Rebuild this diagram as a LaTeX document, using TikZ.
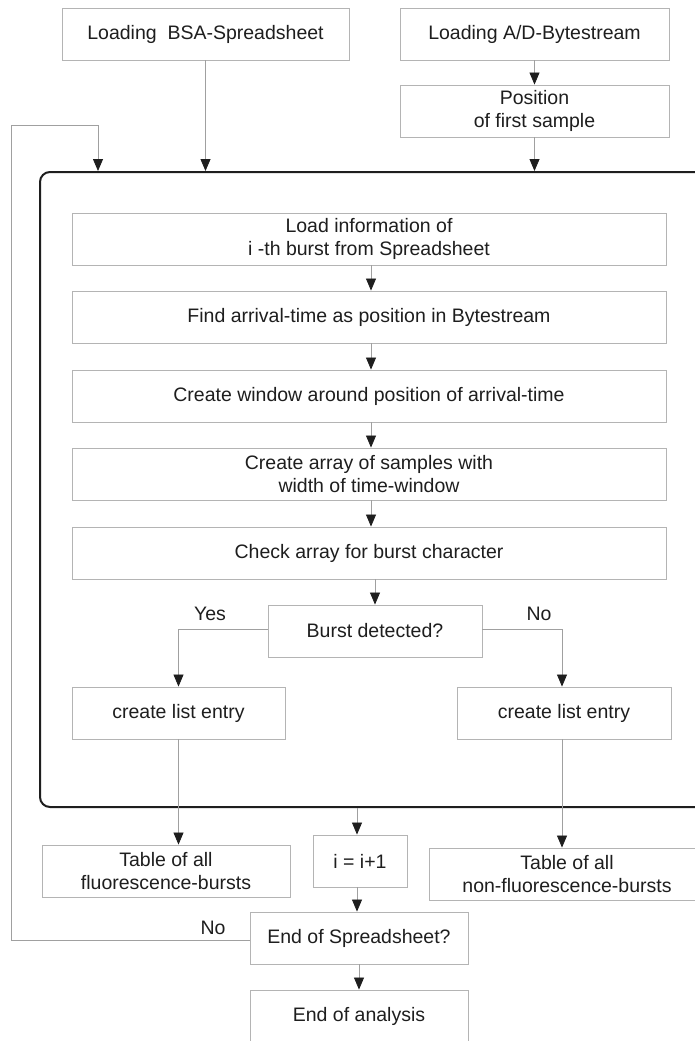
\documentclass[tikz,border=0pt]{standalone}
\usepackage{fontspec}
\setmainfont{Liberation Sans}
\usetikzlibrary{arrows.meta}
\definecolor{boxgray}{HTML}{B4B4B4}
\definecolor{linegray}{HTML}{A0A0A0}
\definecolor{tipc}{HTML}{1E1E1E}
\definecolor{txt}{HTML}{1E1E1E}
\begin{document}
\begin{tikzpicture}[x=1pt,y=-1pt,
  font=\fontsize{19.5}{22.5}\selectfont, text=txt,
  stepbox/.style={draw=boxgray, line width=0.9pt, inner sep=0pt, align=center,
    minimum height=52pt},
  conn/.style={draw=linegray, line width=0.8pt,
    -{Triangle[length=12pt,width=10pt,fill=tipc,color=tipc]}},
  lbl/.style={inner sep=0pt}]
\clip (0,0) rectangle (695,1041);
\fill[white] (0,0) rectangle (695,1041);
% top boxes
\node[stepbox, minimum width=287pt] (bsa) at (205.5,34) {Loading\ \ BSA-Spreadsheet};
\node[stepbox, minimum width=269pt] (ad) at (534.5,34) {Loading A/D-Bytestream};
\node[stepbox, minimum width=269pt] (pos) at (534.5,111) {Position\\of first sample};
% frame
\node[draw=tipc, line width=2pt, rounded corners=10pt, minimum width=675pt,
  minimum height=635pt, inner sep=0pt] (frame) at (377.5,489.5) {};
% inner boxes
\node[stepbox, minimum width=594pt] (load) at (369,239) {Load information of\\i -th burst from Spreadsheet};
\node[stepbox, minimum width=594pt] (find) at (369,317) {Find arrival-time as position in Bytestream};
\node[stepbox, minimum width=594pt] (win) at (369,396) {Create window around position of arrival-time};
\node[stepbox, minimum width=594pt] (arr) at (369,474) {Create array of samples with\\width of time-window};
\node[stepbox, minimum width=594pt] (chk) at (369,553) {Check array for burst character};
\node[stepbox, minimum width=214pt] (burst) at (375,631) {Burst detected?};
\node[stepbox, minimum width=213pt] (yesbox) at (178.5,713) {create list entry};
\node[stepbox, minimum width=214pt] (nobox) at (564,713) {create list entry};
% bottom boxes
\node[stepbox, minimum width=248pt] (fluor) at (166,871) {Table of all\\fluorescence-bursts};
\node[stepbox, minimum width=94pt] (inc) at (360,861) {i = i+1};
\node[stepbox, minimum width=276pt] (nonfl) at (567,874) {Table of all\\non-fluorescence-bursts};
\node[stepbox, minimum width=218pt] (eos) at (359,938) {End of Spreadsheet?};
\node[stepbox, minimum width=218pt] (eoa) at (359,1016) {End of analysis};
% labels
\node[lbl] (yes) at (210,614) {Yes};
\node[lbl] (no1) at (539,614) {No};
\node[lbl] (no2) at (213,928) {No};
% loop coordinates
\coordinate (lpA) at (11,940);
\coordinate (lpB) at (11,125);
\coordinate (lpC) at (98,125);
% connectors
\draw[conn] (ad.south) -- (pos.north);
\draw[conn] (pos.south) -- (pos.south |- frame.north);
\draw[conn] (bsa.south) -- (bsa.south |- frame.north);
\draw[conn] (eos.west |- lpA) -- (lpA) -- (lpB) -- (lpC) -- (lpC |- frame.north);
\draw[conn] (load.south -| 371,0) -- (find.north -| 371,0);
\draw[conn] (find.south -| 371,0) -- (win.north -| 371,0);
\draw[conn] (win.south -| 371,0) -- (arr.north -| 371,0);
\draw[conn] (arr.south -| 371,0) -- (chk.north -| 371,0);
\draw[conn] (chk.south -| burst.north) -- (burst.north);
\draw[conn] (burst.west |- 0,629) -| (yesbox.north);
\draw[conn] (burst.east |- 0,629) -| (562,0 |- nobox.north);
\draw[conn] (yesbox.south) -- (yesbox.south |- fluor.north);
\draw[conn] (562,0 |- nobox.south) -- (562,0 |- nonfl.north);
\draw[conn] (357,0 |- frame.south) -- (357,0 |- inc.north);
\draw[conn] (357,0 |- inc.south) -- (357,0 |- eos.north);
\draw[conn] (eos.south) -- (eoa.north);
\end{tikzpicture}
\end{document}
